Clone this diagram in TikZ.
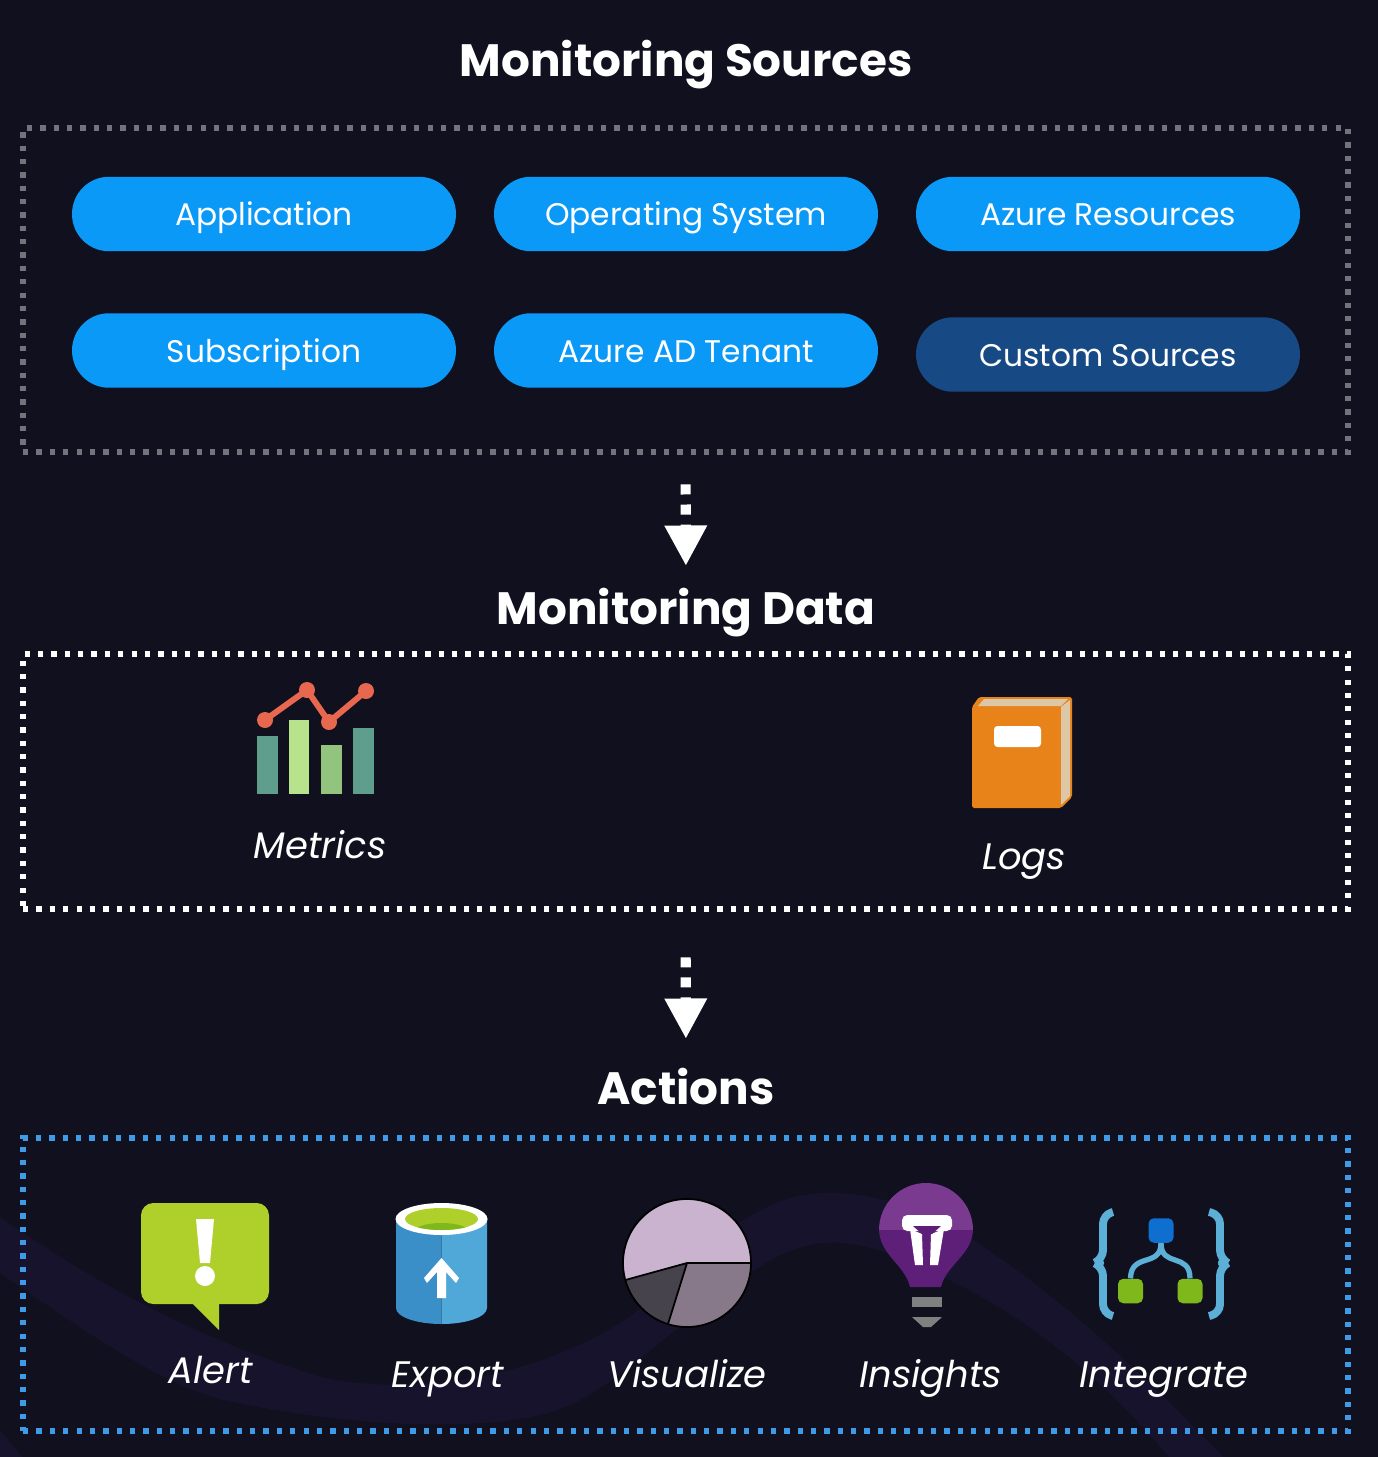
\documentclass[tikz,border=0pt]{standalone}
\usepackage{fontspec}
\setmainfont{Poppins}
\usepackage{tikz}
\usetikzlibrary{arrows.meta,positioning,calc}

\definecolor{bgdark}{HTML}{10101E}
\definecolor{bgwave}{HTML}{17132D}
\definecolor{pillblue}{HTML}{0A99F7}
\definecolor{pilldark}{HTML}{174A85}
\definecolor{boxgray}{HTML}{73737B}
\definecolor{boxblue}{HTML}{3F9BE8}
\definecolor{barteal}{HTML}{5F9E8C}
\definecolor{barlight}{HTML}{B9E28C}
\definecolor{barmid}{HTML}{93C47D}
\definecolor{linered}{HTML}{E8674F}
\definecolor{bookorange}{HTML}{E8831A}
\definecolor{bookcream}{HTML}{DCC7A6}
\definecolor{alertgreen}{HTML}{AFCF2B}
\definecolor{cylleft}{HTML}{3A8FC8}
\definecolor{cylright}{HTML}{4FA8D8}
\definecolor{pietop}{HTML}{C9B3CF}
\definecolor{piedark}{HTML}{47434C}
\definecolor{piemid}{HTML}{87798A}
\definecolor{bulbtop}{HTML}{7A3A90}
\definecolor{bulblow}{HTML}{5E1F78}
\definecolor{flowline}{HTML}{5CB0D8}
\definecolor{flowblue}{HTML}{0E6FD0}
\definecolor{flowgreen}{HTML}{7FB81A}

\tikzset{
	heading/.style={text=white,font=\fontsize{25.8}{28}\selectfont\bfseries,inner sep=0pt,text height=17pt,text depth=5pt},
	pill/.style={fill=pillblue,text=white,rounded corners=0.74cm,minimum width=7.68cm,minimum height=1.49cm,inner sep=0pt,text height=13.5pt,text depth=0pt,font=\fontsize{17.8}{20}\selectfont},
	dotbox/.style={draw=#1,line width=3pt,dash pattern=on 3pt off 4.6pt,minimum width=26.5cm,inner sep=0pt},
	caption/.style={text=white,font=\fontsize{21}{24}\selectfont\itshape,inner sep=0pt,text height=14pt,text depth=0pt},
	flowarrow/.style={white,line width=5.8pt,dash pattern=on 5.7pt off 5.7pt,-{Triangle[width=22.7pt,length=23pt]}},
	flowbox/.style={rounded corners=3pt,minimum width=0.5cm,minimum height=0.49cm,inner sep=0pt}
}

\begin{document}
\begin{tikzpicture}[x=0.02cm,y=-0.02cm]
	\useasboundingbox (0,0) rectangle (1378,1457);
	\fill[bgdark] (0,0) rectangle (1378,1457);
	% wave at the bottom
	\fill[bgwave] (0,1217) .. controls (70,1265) and (170,1330) .. (320,1377) .. controls (420,1398) and (540,1375) .. (625,1320) .. controls (680,1280) and (720,1220) .. (790,1198) .. controls (850,1182) and (920,1205) .. (973,1240) .. controls (1050,1290) and (1130,1360) .. (1223,1457) -- (1169,1457) .. controls (1100,1375) and (1030,1320) .. (955,1283) .. controls (900,1255) and (860,1240) .. (825,1243) .. controls (780,1245) and (740,1280) .. (700,1310) .. controls (650,1350) and (600,1395) .. (558,1410) .. controls (480,1435) and (340,1425) .. (223,1400) .. controls (150,1380) and (70,1320) .. (0,1273) -- cycle;
	\fill[bgwave] (0,1430) -- (22,1457) -- (0,1457) -- cycle;

	% sources
	\node[heading] (sourcesTitle) at (686,66) {Monitoring Sources};
	\node[dotbox=boxgray,minimum height=6.48cm] (sourcesBox) at (685.5,290) {};
	\node[pill] (application) at (264,214) {Application};
	\node[pill] (operating) at (686,214) {Operating System};
	\node[pill] (resources) at (1108,214) {Azure Resources};
	\node[pill] (subscription) at (264,350.5) {Subscription};
	\node[pill] (tenant) at (686,350.5) {Azure AD Tenant};
	\node[pill,fill=pilldark] (custom) at (1108,354.5) {Custom Sources};

	% data
	\node[heading] (dataTitle) at (686,614.4) {Monitoring Data};
	\node[dotbox=white,minimum height=5.1cm] (dataBox) at (685.5,781.5) {};
	\draw[flowarrow,shorten <=17pt,shorten >=16.4pt] (sourcesBox.south) -- (dataTitle.north);

	\fill[barteal] (257,736) rectangle (278,794);
	\fill[barlight] (289,720) rectangle (309,794);
	\fill[barmid] (321,745) rectangle (342,794);
	\fill[barteal] (353,728) rectangle (374,794);
	\draw[linered,line width=3.4pt] (265,720) -- (307,690) -- (329,722) -- (366,691);
	\foreach \px/\py in {265/720,307/690,329/722,366/691}
		\fill[linered] (\px,\py) circle(8);
	\node[caption] (metrics) at (320,846) {Metrics};

	\fill[bookorange,rounded corners=1pt] (972,707) -- (979,697) -- (1072,697) -- (1072,797) -- (1061,808) -- (972,808) -- cycle;
	\fill[bookcream] (978,706) -- (984,699) -- (1068,699) -- (1061,706) -- cycle;
	\fill[bookcream] (1061,707) -- (1070,700) -- (1070,796) -- (1061,805) -- cycle;
	\fill[white,rounded corners=2pt] (994,726) rectangle (1041,747);
	\node[caption] (logs) at (1024,857) {Logs};

	% actions
	\node[heading] (actionsTitle) at (686,1094.4) {Actions};
	\node[dotbox=boxblue,minimum height=5.86cm] (actionsBox) at (685.5,1284.5) {};
	\draw[flowarrow,shorten <=26pt,shorten >=20.4pt] (dataBox.south) -- (actionsTitle.north);

	\fill[alertgreen,rounded corners=7pt] (141,1203) rectangle (269,1304);
	\fill[alertgreen] (192,1303) -- (219,1330) -- (219,1303) -- cycle;
	\fill[white] (196,1219) -- (214,1219) -- (210,1263) -- (200,1263) -- cycle;
	\fill[white] (205,1276) circle(10);
	\node[caption] (alert) at (211,1371) {Alert};

	\fill[cylleft] (396,1218) -- (396,1308) arc(180:90:45.5 and 16) -- (441.5,1218) -- cycle;
	\fill[cylright] (441.5,1218) -- (441.5,1324) arc(90:0:45.5 and 16) -- (487,1218) -- cycle;
	\fill[white] (441.5,1219) ellipse(46 and 16);
	\begin{scope}
		\clip (441.5,1219) ellipse(36.5 and 11);
		\fill[alertgreen] (405,1208) rectangle (478,1230);
		\fill[flowgreen] (441.5,1232) ellipse(28 and 9);
	\end{scope}
	\fill[white] (437,1298) -- (437,1272) -- (427,1283) -- (424,1278) -- (441.5,1258) -- (459,1278) -- (456,1283) -- (446,1272) -- (446,1298) -- cycle;
	\node[caption] (export) at (448,1375) {Export};

	\fill[pietop] (687,1263) -- (751,1263) arc[start angle=0,end angle=-195.3,radius=64] -- cycle;
	\fill[piedark] (687,1263) -- (625.3,1280) arc[start angle=164.7,end angle=107.3,radius=64] -- cycle;
	\fill[piemid] (687,1263) -- (668,1324) arc[start angle=107.3,end angle=0,radius=64] -- cycle;
	\draw[black,line width=1pt] (751,1263) -- (687,1263) -- (625.3,1280) (687,1263) -- (668,1324) (687,1263) circle(64);
	\node[caption] (visualize) at (687,1375) {Visualize};

	\fill[bulbtop] (879,1230) arc[start angle=180,end angle=360,radius=47] -- cycle;
	\fill[bulblow] (879,1230) .. controls (880,1255) and (905,1265) .. (910,1287) -- (941,1287) .. controls (946,1265) and (972,1255) .. (973,1230) -- cycle;
	\fill[white,rounded corners=3pt] (902,1215) rectangle (952,1231);
	\fill[white] (910,1229) -- (922,1234) -- (923,1265) -- (915,1265) -- cycle;
	\fill[white] (944,1229) -- (931,1234) -- (930,1265) -- (938,1265) -- cycle;
	\fill[bulblow] (913,1226) -- (941,1226) -- (932,1234) -- (922,1234) -- cycle;
	\fill[gray] (912,1297) rectangle (942,1307);
	\fill[gray] (912,1317) -- (942,1317) -- (931,1327) -- (923,1327) -- cycle;
	\node[caption] (insights) at (931,1375) {Insights};

	\draw[flowline,line width=4.5pt,rounded corners=5pt] (1113,1212) -- (1103,1215) -- (1103,1259) -- (1094,1263) -- (1103,1267) -- (1103,1313) -- (1113,1316);
	\draw[flowline,line width=4.5pt,rounded corners=5pt] (1209,1212) -- (1220,1215) -- (1220,1259) -- (1228,1263) -- (1220,1267) -- (1220,1313) -- (1209,1316);
	\node[flowbox,fill=flowblue] (flowtop) at (1161,1230.5) {};
	\node[flowbox,fill=flowgreen] (flowleft) at (1130.5,1291) {};
	\node[flowbox,fill=flowgreen] (flowright) at (1190,1291) {};
	\draw[flowline,line width=3pt] (flowtop.south) .. controls (1161,1268) and (1131,1252) .. (flowleft.north);
	\draw[flowline,line width=3pt] (flowtop.south) .. controls (1161,1268) and (1190,1252) .. (flowright.north);
	\node[caption] (integrate) at (1164,1375) {Integrate};
\end{tikzpicture}
\end{document}
